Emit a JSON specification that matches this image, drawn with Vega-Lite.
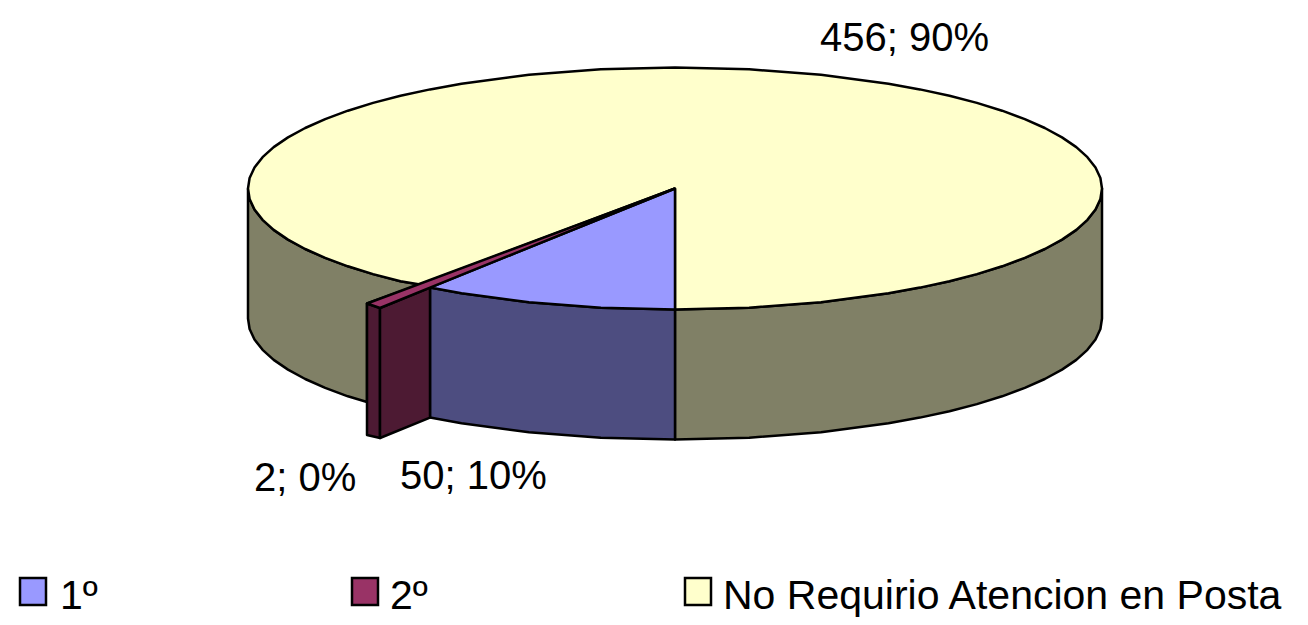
{"$schema":"https://vega.github.io/schema/vega-lite/v6.json","autosize":{"type":"fit","contains":"padding"},"padding":0,"width":1308,"height":625,"background":"white","config":{"view":{"stroke":null}},
"datasets":{
"faces":[
{"poly":"a","face":"No lado","n":0,"x":248,"y":188.5},{"poly":"a","face":"No lado","n":0.5,"x":249.6,"y":199},{"poly":"a","face":"No lado","n":1,"x":254.5,"y":209.5},{"poly":"a","face":"No lado","n":1.5,"x":262.6,"y":219.8},{"poly":"a","face":"No lado","n":2,"x":273.7,"y":229.9},{"poly":"a","face":"No lado","n":2.5,"x":288,"y":239.6},{"poly":"a","face":"No lado","n":3,"x":305.2,"y":249},{"poly":"a","face":"No lado","n":3.5,"x":325.2,"y":257.9},{"poly":"a","face":"No lado","n":4,"x":347.9,"y":266.3},{"poly":"a","face":"No lado","n":4.5,"x":373.1,"y":274.1},{"poly":"a","face":"No lado","n":5,"x":400.5,"y":281.2},{"poly":"a","face":"No lado","n":6,"x":420,"y":284.5},{"poly":"a","face":"No lado","n":7,"x":367,"y":303.5},{"poly":"a","face":"No lado","n":8,"x":367,"y":402},{"poly":"a","face":"No lado","n":9,"x":347.9,"y":396.3},{"poly":"a","face":"No lado","n":9.5,"x":325.2,"y":387.9},{"poly":"a","face":"No lado","n":10,"x":305.2,"y":379},{"poly":"a","face":"No lado","n":10.5,"x":288,"y":369.6},{"poly":"a","face":"No lado","n":11,"x":273.7,"y":359.9},{"poly":"a","face":"No lado","n":11.5,"x":262.6,"y":349.8},{"poly":"a","face":"No lado","n":12,"x":254.5,"y":339.5},{"poly":"a","face":"No lado","n":12.5,"x":249.6,"y":329},{"poly":"a","face":"No lado","n":13,"x":248,"y":318.5},{"poly":"a","face":"No lado","n":14,"x":248,"y":188.5},
{"poly":"b","face":"No lado","n":0,"x":675,"y":309.5},{"poly":"b","face":"No lado","n":1,"x":749.1,"y":307.7},{"poly":"b","face":"No lado","n":2,"x":821,"y":302.2},{"poly":"b","face":"No lado","n":3,"x":888.5,"y":293.3},{"poly":"b","face":"No lado","n":3.5,"x":919.9,"y":287.6},{"poly":"b","face":"No lado","n":4,"x":949.5,"y":281.2},{"poly":"b","face":"No lado","n":4.5,"x":976.9,"y":274.1},{"poly":"b","face":"No lado","n":5,"x":1002.1,"y":266.3},{"poly":"b","face":"No lado","n":5.5,"x":1024.8,"y":257.9},{"poly":"b","face":"No lado","n":6,"x":1044.8,"y":249},{"poly":"b","face":"No lado","n":6.5,"x":1062,"y":239.6},{"poly":"b","face":"No lado","n":7,"x":1076.3,"y":229.9},{"poly":"b","face":"No lado","n":7.5,"x":1087.4,"y":219.8},{"poly":"b","face":"No lado","n":8,"x":1095.5,"y":209.5},{"poly":"b","face":"No lado","n":8.5,"x":1100.4,"y":199},{"poly":"b","face":"No lado","n":9,"x":1102,"y":188.5},{"poly":"b","face":"No lado","n":10,"x":1102,"y":318.5},{"poly":"b","face":"No lado","n":10.5,"x":1100.4,"y":329},{"poly":"b","face":"No lado","n":11,"x":1095.5,"y":339.5},{"poly":"b","face":"No lado","n":11.5,"x":1087.4,"y":349.8},{"poly":"b","face":"No lado","n":12,"x":1076.3,"y":359.9},{"poly":"b","face":"No lado","n":12.5,"x":1062,"y":369.6},{"poly":"b","face":"No lado","n":13,"x":1044.8,"y":379},{"poly":"b","face":"No lado","n":13.5,"x":1024.8,"y":387.9},{"poly":"b","face":"No lado","n":14,"x":1002.1,"y":396.3},{"poly":"b","face":"No lado","n":14.5,"x":976.9,"y":404.1},{"poly":"b","face":"No lado","n":15,"x":949.5,"y":411.2},{"poly":"b","face":"No lado","n":15.5,"x":919.9,"y":417.6},{"poly":"b","face":"No lado","n":16,"x":888.5,"y":423.3},{"poly":"b","face":"No lado","n":17,"x":821,"y":432.2},{"poly":"b","face":"No lado","n":18,"x":749.1,"y":437.7},{"poly":"b","face":"No lado","n":19,"x":675,"y":439.5},{"poly":"b","face":"No lado","n":20,"x":675,"y":309.5},
{"poly":"c","face":"1 lado","n":0,"x":675,"y":309.5},{"poly":"c","face":"1 lado","n":1,"x":600.9,"y":307.7},{"poly":"c","face":"1 lado","n":2,"x":529,"y":302.2},{"poly":"c","face":"1 lado","n":3,"x":461.5,"y":293.3},{"poly":"c","face":"1 lado","n":4,"x":430,"y":287.6},{"poly":"c","face":"1 lado","n":5,"x":430,"y":417.6},{"poly":"c","face":"1 lado","n":6,"x":461.5,"y":423.3},{"poly":"c","face":"1 lado","n":7,"x":529,"y":432.2},{"poly":"c","face":"1 lado","n":8,"x":600.9,"y":437.7},{"poly":"c","face":"1 lado","n":9,"x":675,"y":439.5},{"poly":"c","face":"1 lado","n":10,"x":675,"y":309.5},
{"poly":"d","face":"No Requirio Atencion en Posta","n":0,"x":675,"y":309.5},{"poly":"d","face":"No Requirio Atencion en Posta","n":1,"x":749.1,"y":307.7},{"poly":"d","face":"No Requirio Atencion en Posta","n":2,"x":821,"y":302.2},{"poly":"d","face":"No Requirio Atencion en Posta","n":3,"x":888.5,"y":293.3},{"poly":"d","face":"No Requirio Atencion en Posta","n":3.5,"x":919.9,"y":287.6},{"poly":"d","face":"No Requirio Atencion en Posta","n":4,"x":949.5,"y":281.2},{"poly":"d","face":"No Requirio Atencion en Posta","n":4.5,"x":976.9,"y":274.1},{"poly":"d","face":"No Requirio Atencion en Posta","n":5,"x":1002.1,"y":266.3},{"poly":"d","face":"No Requirio Atencion en Posta","n":5.5,"x":1024.8,"y":257.9},{"poly":"d","face":"No Requirio Atencion en Posta","n":6,"x":1044.8,"y":249},{"poly":"d","face":"No Requirio Atencion en Posta","n":6.5,"x":1062,"y":239.6},{"poly":"d","face":"No Requirio Atencion en Posta","n":7,"x":1076.3,"y":229.9},{"poly":"d","face":"No Requirio Atencion en Posta","n":7.5,"x":1087.4,"y":219.8},{"poly":"d","face":"No Requirio Atencion en Posta","n":8,"x":1095.5,"y":209.5},{"poly":"d","face":"No Requirio Atencion en Posta","n":8.5,"x":1100.4,"y":199},{"poly":"d","face":"No Requirio Atencion en Posta","n":9,"x":1102,"y":188.5},{"poly":"d","face":"No Requirio Atencion en Posta","n":9.5,"x":1100.4,"y":178},{"poly":"d","face":"No Requirio Atencion en Posta","n":10,"x":1095.5,"y":167.5},{"poly":"d","face":"No Requirio Atencion en Posta","n":10.5,"x":1087.4,"y":157.2},{"poly":"d","face":"No Requirio Atencion en Posta","n":11,"x":1076.3,"y":147.1},{"poly":"d","face":"No Requirio Atencion en Posta","n":11.5,"x":1062,"y":137.4},{"poly":"d","face":"No Requirio Atencion en Posta","n":12,"x":1044.8,"y":128},{"poly":"d","face":"No Requirio Atencion en Posta","n":12.5,"x":1024.8,"y":119.1},{"poly":"d","face":"No Requirio Atencion en Posta","n":13,"x":1002.1,"y":110.7},{"poly":"d","face":"No Requirio Atencion en Posta","n":13.5,"x":976.9,"y":102.9},{"poly":"d","face":"No Requirio Atencion en Posta","n":14,"x":949.5,"y":95.8},{"poly":"d","face":"No Requirio Atencion en Posta","n":14.5,"x":919.9,"y":89.4},{"poly":"d","face":"No Requirio Atencion en Posta","n":15,"x":888.5,"y":83.7},{"poly":"d","face":"No Requirio Atencion en Posta","n":16,"x":821,"y":74.8},{"poly":"d","face":"No Requirio Atencion en Posta","n":17,"x":749.1,"y":69.3},{"poly":"d","face":"No Requirio Atencion en Posta","n":18,"x":675,"y":67.5},{"poly":"d","face":"No Requirio Atencion en Posta","n":19,"x":600.9,"y":69.3},{"poly":"d","face":"No Requirio Atencion en Posta","n":20,"x":529,"y":74.8},{"poly":"d","face":"No Requirio Atencion en Posta","n":21,"x":461.5,"y":83.7},{"poly":"d","face":"No Requirio Atencion en Posta","n":21.5,"x":430.1,"y":89.4},{"poly":"d","face":"No Requirio Atencion en Posta","n":22,"x":400.5,"y":95.8},{"poly":"d","face":"No Requirio Atencion en Posta","n":22.5,"x":373.1,"y":102.9},{"poly":"d","face":"No Requirio Atencion en Posta","n":23,"x":347.9,"y":110.7},{"poly":"d","face":"No Requirio Atencion en Posta","n":23.5,"x":325.2,"y":119.1},{"poly":"d","face":"No Requirio Atencion en Posta","n":24,"x":305.2,"y":128},{"poly":"d","face":"No Requirio Atencion en Posta","n":24.5,"x":288,"y":137.4},{"poly":"d","face":"No Requirio Atencion en Posta","n":25,"x":273.7,"y":147.1},{"poly":"d","face":"No Requirio Atencion en Posta","n":25.5,"x":262.6,"y":157.2},{"poly":"d","face":"No Requirio Atencion en Posta","n":26,"x":254.5,"y":167.5},{"poly":"d","face":"No Requirio Atencion en Posta","n":26.5,"x":249.6,"y":178},{"poly":"d","face":"No Requirio Atencion en Posta","n":27,"x":248,"y":188.5},{"poly":"d","face":"No Requirio Atencion en Posta","n":27.5,"x":249.6,"y":199},{"poly":"d","face":"No Requirio Atencion en Posta","n":28,"x":254.5,"y":209.5},{"poly":"d","face":"No Requirio Atencion en Posta","n":28.5,"x":262.6,"y":219.8},{"poly":"d","face":"No Requirio Atencion en Posta","n":29,"x":273.7,"y":229.9},{"poly":"d","face":"No Requirio Atencion en Posta","n":29.5,"x":288,"y":239.6},{"poly":"d","face":"No Requirio Atencion en Posta","n":30,"x":305.2,"y":249},{"poly":"d","face":"No Requirio Atencion en Posta","n":30.5,"x":325.2,"y":257.9},{"poly":"d","face":"No Requirio Atencion en Posta","n":31,"x":347.9,"y":266.3},{"poly":"d","face":"No Requirio Atencion en Posta","n":31.5,"x":373.1,"y":274.1},{"poly":"d","face":"No Requirio Atencion en Posta","n":32,"x":400.5,"y":281.2},{"poly":"d","face":"No Requirio Atencion en Posta","n":33,"x":420,"y":284.5},{"poly":"d","face":"No Requirio Atencion en Posta","n":34,"x":675,"y":188.5},{"poly":"d","face":"No Requirio Atencion en Posta","n":35,"x":675,"y":309.5},
{"poly":"e","face":"1º","n":0,"x":675,"y":188.5},{"poly":"e","face":"1º","n":1,"x":675,"y":309.5},{"poly":"e","face":"1º","n":2,"x":600.9,"y":307.7},{"poly":"e","face":"1º","n":3,"x":529,"y":302.2},{"poly":"e","face":"1º","n":4,"x":461.5,"y":293.3},{"poly":"e","face":"1º","n":5,"x":430,"y":287.6},{"poly":"e","face":"1º","n":6,"x":675,"y":188.5},
{"poly":"f","face":"2 lado","n":0,"x":367,"y":303.5},{"poly":"f","face":"2 lado","n":1,"x":380,"y":308},{"poly":"f","face":"2 lado","n":2,"x":380,"y":438},{"poly":"f","face":"2 lado","n":3,"x":367,"y":435},{"poly":"f","face":"2 lado","n":4,"x":367,"y":303.5},
{"poly":"g","face":"2 lado","n":0,"x":380,"y":308},{"poly":"g","face":"2 lado","n":1,"x":430,"y":287.6},{"poly":"g","face":"2 lado","n":2,"x":430,"y":417.6},{"poly":"g","face":"2 lado","n":3,"x":380,"y":438},{"poly":"g","face":"2 lado","n":4,"x":380,"y":308},
{"poly":"h","face":"2º","n":0,"x":675,"y":188.5},{"poly":"h","face":"2º","n":1,"x":430,"y":287.6},{"poly":"h","face":"2º","n":2,"x":380,"y":308},{"poly":"h","face":"2º","n":3,"x":367,"y":303.5},{"poly":"h","face":"2º","n":4,"x":675,"y":188.5}
],
"labels":[{"label":"456; 90%","x":820,"y":51},{"label":"50; 10%","x":400,"y":489},{"label":"2; 0%","x":254,"y":491}],
"legend":[{"face":"1º","x":20,"x2":46,"y":578,"y2":605,"tx":60,"ty":609},{"face":"2º","x":352,"x2":378,"y":578,"y2":605,"tx":390,"ty":609},{"face":"No Requirio Atencion en Posta","x":685,"x2":711,"y":578,"y2":605,"tx":723,"ty":609}]
},
"layer":[
{"data":{"name":"faces"},"mark":{"type":"line","stroke":"black","strokeWidth":2.5,"strokeJoin":"round","clip":false},
"encoding":{"x":{"field":"x","type":"quantitative","scale":{"domain":[0,1308],"nice":false,"zero":false},"axis":null},"y":{"field":"y","type":"quantitative","scale":{"domain":[625,0],"nice":false,"zero":false},"axis":null},"order":{"field":"n","type":"quantitative"},"detail":{"field":"poly"},"fill":{"field":"face","type":"nominal","legend":null,"scale":{"domain":["1º","2º","No Requirio Atencion en Posta","1 lado","2 lado","No lado"],"range":["#9999FF","#993366","#FFFFCC","#4D4D80","#4D1A33","#808066"]}}}},
{"data":{"name":"legend"},"mark":{"type":"rect","stroke":"black","strokeWidth":2.5},
"encoding":{"x":{"field":"x","type":"quantitative"},"x2":{"field":"x2"},"y":{"field":"y","type":"quantitative"},"y2":{"field":"y2"},"fill":{"field":"face","type":"nominal","legend":null}}},
{"data":{"name":"legend"},"mark":{"type":"text","align":"left","baseline":"alphabetic","font":"Liberation Sans","fontSize":41,"fill":"black"},
"encoding":{"x":{"field":"tx","type":"quantitative"},"y":{"field":"ty","type":"quantitative"},"text":{"field":"face"}}},
{"data":{"name":"labels"},"mark":{"type":"text","align":"left","baseline":"alphabetic","font":"Liberation Sans","fontSize":40,"fill":"black"},
"encoding":{"x":{"field":"x","type":"quantitative"},"y":{"field":"y","type":"quantitative"},"text":{"field":"label"}}}
]}
